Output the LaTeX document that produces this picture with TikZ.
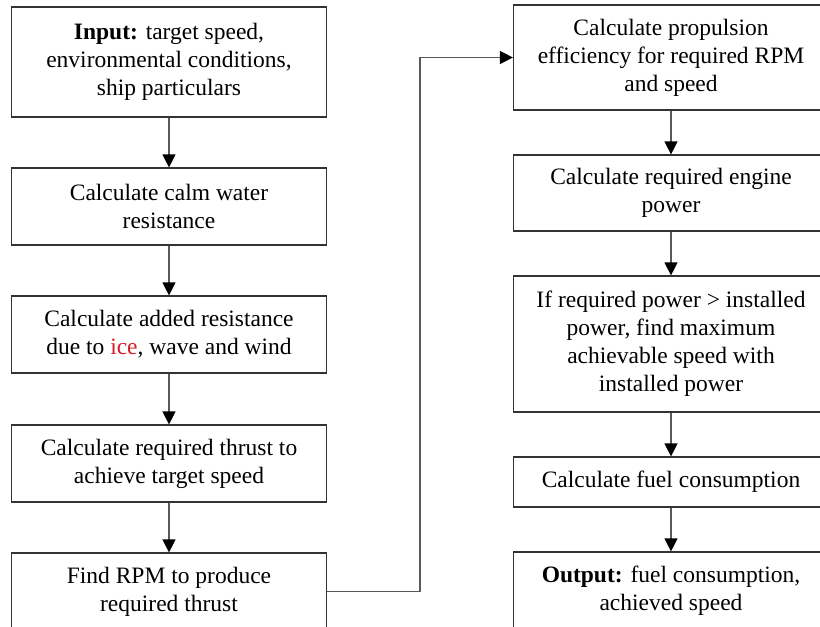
\documentclass[tikz,border=0pt]{standalone}
\usepackage{fontspec}
\setmainfont{Liberation Serif}
\usetikzlibrary{arrows.meta}
\definecolor{icered}{RGB}{214,30,40}
\begin{document}
\begin{tikzpicture}[x=1pt,y=1pt]
  \tikzstyle{every node}+=[inner sep=0pt, font=\fontsize{23.5}{28}\selectfont]
  \tikzstyle{stepbox}=[draw=black!80, line width=1.2pt, rectangle, minimum width=315pt, align=center]
  \tikzstyle{link}=[draw=black!65, line width=1.2pt, -{Triangle[width=13pt,length=13pt,black]}]
  \useasboundingbox (0,0) rectangle (820,-627);
  \clip (0,0) rectangle (820,-627);
  \fill [white] (0,0) rectangle (820,-627);
  \node [stepbox, minimum height=110pt] (input) at (169,-62) {\textbf{Input:} target speed,\\environmental conditions,\\ship particulars};
  \node [stepbox, minimum height=77pt] (calm) at (169,-206.5) {Calculate calm water\\resistance};
  \node [stepbox, minimum height=77pt] (added) at (169,-334.5) {Calculate added resistance\\due to \textcolor{icered}{ice}, wave and wind};
  \node [stepbox, minimum height=77pt] (thrust) at (169,-463.5) {Calculate required thrust to\\achieve target speed};
  \node [stepbox, minimum height=77pt] (rpm) at (169,-591.5) {Find RPM to produce\\required thrust};
  \node [stepbox, minimum height=105pt] (eff) at (671,-57.5) {Calculate propulsion\\efficiency for required RPM\\and speed};
  \node [stepbox, minimum height=76pt] (power) at (671,-193) {Calculate required engine\\power};
  \node [stepbox, minimum height=136pt] (maxspeed) at (671,-344) {If required power > installed\\power, find maximum\\achievable speed with\\installed power};
  \node [stepbox, minimum height=50pt] (fuel) at (671,-482) {Calculate fuel consumption};
  \node [stepbox, minimum height=77pt] (output) at (671,-590.5) {\textbf{Output:} fuel consumption,\\achieved speed};
  \coordinate (turn) at (420,-300);
  \draw [link] (input) -- (calm);
  \draw [link] (calm) -- (added);
  \draw [link] (added) -- (thrust);
  \draw [link] (thrust) -- (rpm);
  \draw [link] (rpm.east) -| (turn) |- (eff.west);
  \draw [link] (eff) -- (power);
  \draw [link] (power) -- (maxspeed);
  \draw [link] (maxspeed) -- (fuel);
  \draw [link] (fuel) -- (output);
\end{tikzpicture}
\end{document}
